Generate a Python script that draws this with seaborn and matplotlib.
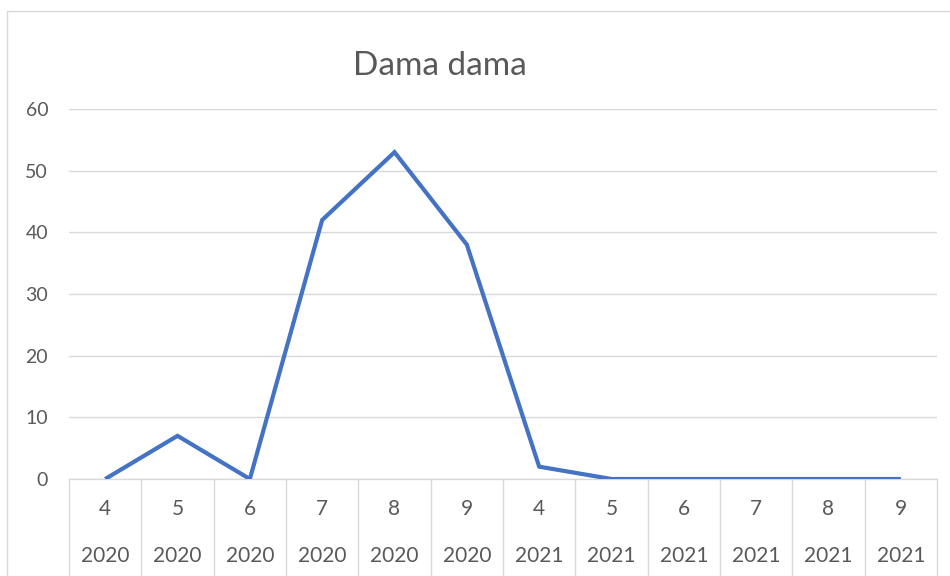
import matplotlib
matplotlib.use("Agg")
import matplotlib.pyplot as plt
import matplotlib.transforms as mtransforms
from matplotlib.patches import Rectangle
import seaborn as sns
import pandas as pd

# data
months = ["4", "5", "6", "7", "8", "9", "4", "5", "6", "7", "8", "9"]
years = ["2020"] * 6 + ["2021"] * 6
counts = [0, 7, 0, 42, 53, 38, 2, 0, 0, 0, 0, 0]

df = pd.DataFrame({"pos": range(len(counts)), "count": counts})

sns.set_style("white")
plt.rcParams["font.family"] = ["Lato", "DejaVu Sans"]
text_col = "#595959"
grid_col = "#D9D9D9"

fig = plt.figure(figsize=(9.5, 5.76), dpi=100)
W, H = 950, 576
ax = fig.add_axes([69 / W, (H - 479) / H, (937 - 69) / W, (479 - 109) / H])

sns.lineplot(data=df, x="pos", y="count", ax=ax, color="#4472C4", linewidth=3.0,
             solid_capstyle="butt", solid_joinstyle="miter")

ax.set_xlim(-0.5, len(counts) - 0.5)
ax.set_ylim(0, 60)
ax.set_yticks(range(0, 61, 10))
ax.yaxis.grid(True, color=grid_col, linewidth=1)
ax.set_axisbelow(True)
for s in ax.spines.values():
    s.set_visible(False)
ax.tick_params(axis="y", length=0, pad=15, labelsize=14, labelcolor=text_col)
ax.set_xticks([])
ax.set_xlabel("")
ax.set_ylabel("")

# multi-level category axis like Excel
trans = mtransforms.blended_transform_factory(ax.transData, ax.transAxes)
bottom = -(H - 479) / (479 - 109) - 0.01
ax.plot([-0.5, len(counts) - 0.5], [0, 0], transform=trans, color=grid_col,
        linewidth=1, clip_on=False, zorder=1)
for i in range(len(counts) + 1):
    ax.plot([i - 0.5, i - 0.5], [0, bottom], transform=trans, color=grid_col,
            linewidth=1, clip_on=False)
for i, (m, y) in enumerate(zip(months, years)):
    ax.text(i, -30 / 370, m, transform=trans, ha="center", va="center",
            fontsize=15, color=text_col)
    ax.text(i, -77 / 370, y, transform=trans, ha="center", va="center",
            fontsize=15, color=text_col)

fig.text(440 / W, 1 - 66 / H, "Dama dama", ha="center", va="center",
         fontsize=24, color=text_col)

# chart area border
fig.patches.append(Rectangle((7 / W, -0.1), 1.0, 1 - 11 / H + 0.1,
                             transform=fig.transFigure, fill=False,
                             edgecolor=grid_col, linewidth=1))

fig.savefig("out.png", dpi=100, facecolor="white")
